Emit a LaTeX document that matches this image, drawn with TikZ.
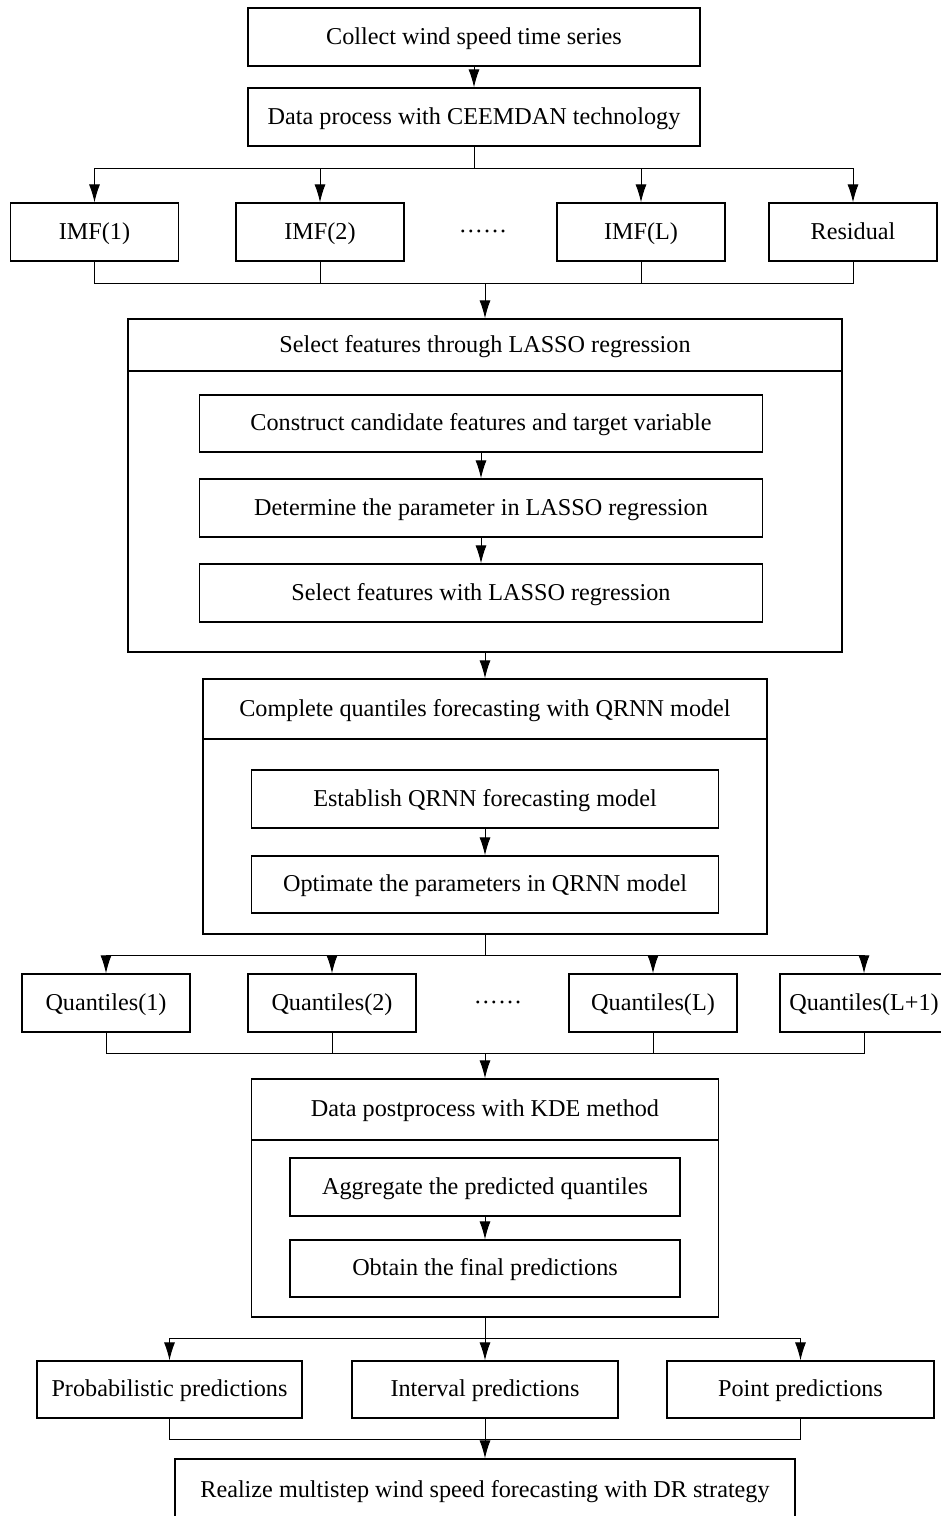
\documentclass[tikz,border=0pt]{standalone}
\usepackage{fontspec}
\setmainfont{Liberation Serif}
\usetikzlibrary{shapes,arrows.meta,calc}
\tikzstyle{line} = [draw, line width=1pt, -{Latex[length=18pt,width=11pt]}]
\tikzstyle{bus} = [draw, line width=1pt]
\tikzstyle{block} = [draw, line width=1.2pt, rectangle, text centered, inner sep=2pt, text height=17pt, text depth=3pt, minimum height=58pt, font=\fontsize{24.2}{29}\selectfont]
\tikzstyle{head} = [draw, line width=1.2pt, rectangle, text centered, inner sep=2pt, text height=17pt, text depth=3pt, font=\fontsize{24.2}{29}\selectfont]
\tikzstyle{body} = [draw, line width=1.2pt, rectangle, inner sep=0pt]
\tikzstyle{gap} = [font=\fontsize{24.2}{29}\selectfont, inner sep=0pt, text height=17pt, text depth=3pt]

\begin{document}
\begin{tikzpicture}[x=1pt, y=-1pt]
        \clip (0,0) rectangle (941,1516);
        % decomposition
        \node[block, minimum width=452pt] (collect) at (474,37) {Collect wind speed time series};
        \node[block, minimum width=452pt] (ceemdan) at (474,117) {Data process with CEEMDAN technology};
        \node[block, minimum width=168pt] (imf1) at (94.5,232) {IMF(1)};
        \node[block, minimum width=168pt] (imf2) at (320,232) {IMF(2)};
        \node[gap] (imfdots) at (483,232) {······};
        \node[block, minimum width=168pt] (imfl) at (641,232) {IMF(L)};
        \node[block, minimum width=168pt] (resid) at (853,232) {Residual};
        \coordinate (split1) at (474,168);
        \coordinate (merge1) at (485,283);
        % feature selection
        \node[head, minimum width=714pt, minimum height=52pt] (lassohead) at (485,345) {Select features through LASSO regression};
        \node[body, minimum width=714pt, minimum height=281pt] (lassobody) at (485,511.5) {};
        \node[block, minimum width=563pt, minimum height=57pt] (cand) at (481,423.5) {Construct candidate features and target variable};
        \node[block, minimum width=563pt] (param) at (481,508) {Determine the parameter in LASSO regression};
        \node[block, minimum width=563pt] (selfeat) at (481,593) {Select features with LASSO regression};
        % quantile forecasting
        \node[head, minimum width=564pt, minimum height=60pt] (qrnnhead) at (485,709) {Complete quantiles forecasting with QRNN model};
        \node[body, minimum width=564pt, minimum height=195pt] (qrnnbody) at (485,836.5) {};
        \node[block, minimum width=467pt] (estab) at (485,799) {Establish QRNN forecasting model};
        \node[block, minimum width=467pt, minimum height=57pt] (optim) at (485,884.5) {Optimate the parameters in QRNN model};
        \coordinate (split2) at (485,955);
        \node[block, minimum width=168pt] (quant1) at (106,1003) {Quantiles(1)};
        \node[block, minimum width=168pt] (quant2) at (332,1003) {Quantiles(2)};
        \node[gap] (quantdots) at (498,1003) {······};
        \node[block, minimum width=168pt] (quantl) at (653,1003) {Quantiles(L)};
        \node[block, minimum width=168pt] (quantl1) at (864,1003) {Quantiles(L+1)};
        \coordinate (merge2) at (485,1053);
        % postprocess
        \node[head, minimum width=467pt, minimum height=61pt] (kdehead) at (485,1109.5) {Data postprocess with KDE method};
        \node[body, minimum width=467pt, minimum height=177pt] (kdebody) at (485,1228.5) {};
        \node[block, minimum width=390pt] (aggr) at (485,1187) {Aggregate the predicted quantiles};
        \node[block, minimum width=390pt, minimum height=57pt] (obtain) at (485,1268.5) {Obtain the final predictions};
        \coordinate (split3) at (485,1338);
        \node[block, minimum width=265pt, minimum height=57pt] (prob) at (169.5,1389.5) {Probabilistic predictions};
        \node[block, minimum width=266pt, minimum height=57pt] (interv) at (485,1389.5) {Interval predictions};
        \node[block, minimum width=267pt, minimum height=57pt] (point) at (800.5,1389.5) {Point predictions};
        \coordinate (merge3) at (485,1439);
        \node[block, minimum width=620pt, minimum height=62pt] (final) at (485,1490) {Realize multistep wind speed forecasting with DR strategy};
        % connectors
        \path[line] (collect) -- (ceemdan);
        \path[bus] (ceemdan) -- (split1);
        \path[line] (split1) -| (imf1);
        \path[line] (split1) -| (imf2);
        \path[line] (split1) -| (imfl);
        \path[line] (split1) -| (resid);
        \path[bus] (imf1) |- (merge1);
        \path[bus] (imf2) |- (merge1);
        \path[bus] (imfl) |- (merge1);
        \path[bus] (resid) |- (merge1);
        \path[line] (merge1) -- (lassohead);
        \path[line] (cand) -- (param);
        \path[line] (param) -- (selfeat);
        \path[line] (lassobody) -- (qrnnhead);
        \path[line] (estab) -- (optim);
        \path[bus] (qrnnbody) -- (split2);
        \path[line] (split2) -| (quant1);
        \path[line] (split2) -| (quant2);
        \path[line] (split2) -| (quantl);
        \path[line] (split2) -| (quantl1);
        \path[bus] (quant1) |- (merge2);
        \path[bus] (quant2) |- (merge2);
        \path[bus] (quantl) |- (merge2);
        \path[bus] (quantl1) |- (merge2);
        \path[line] (merge2) -- (kdehead);
        \path[line] (aggr) -- (obtain);
        \path[bus] (kdebody) -- (split3);
        \path[line] (split3) -| (prob);
        \path[line] (split3) -- (interv);
        \path[line] (split3) -| (point);
        \path[bus] (prob) |- (merge3);
        \path[bus] (interv) -- (merge3);
        \path[bus] (point) |- (merge3);
        \path[line] (merge3) -- (final);
    \end{tikzpicture}
\end{document}
